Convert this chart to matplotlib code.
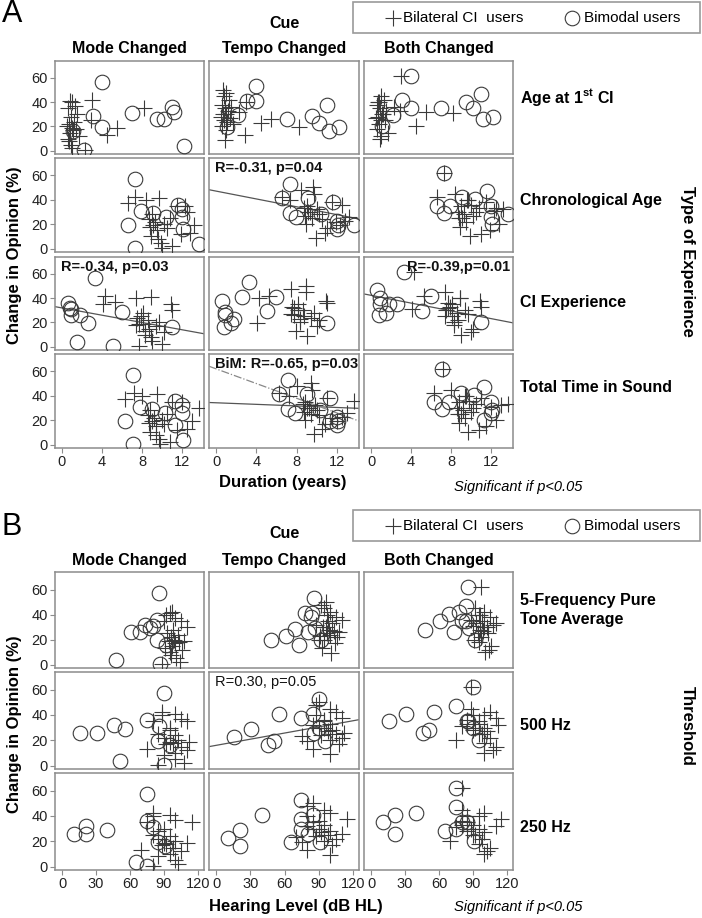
import numpy as np
import matplotlib
matplotlib.use("Agg")
import matplotlib.pyplot as plt
from matplotlib.patches import Rectangle
from matplotlib.lines import Line2D

plt.rcParams['font.family'] = ['Liberation Sans', 'DejaVu Sans']
plt.rcParams['mathtext.fontset'] = 'custom'
plt.rcParams['mathtext.bf'] = 'Liberation Sans:bold'
plt.rcParams['mathtext.rm'] = 'Liberation Sans'

# ---------------- data ----------------
cues = ["Mode Changed", "Tempo Changed", "Both Changed"]
rows_A = ["Age at 1$^{\\mathbf{st}}$ CI", "Chronological Age", "CI Experience", "Total Time in Sound"]
rows_B = ["5-Frequency Pure\nTone Average", "500 Hz", "250 Hz"]
ticks_A = [0, 4, 8, 12]
ticks_B = [0, 30, 60, 90, 120]
ticks_y = [0, 20, 40, 60]

# Bimodal users (one entry per participant)
bim_age   = [4.0, 3.1, 4.0, 1.1, 7.0, 9.5, 10.2, 11.0, 11.2, 12.2, 2.2]
bim_chron = [7.3, 9.1, 6.6, 12.1, 7.9, 10.4, 12.0, 11.6, 12.0, 13.7, 7.3]
bim_exp   = [3.3, 6.0, 2.6, 11.0, 0.9, 0.9, 1.8, 0.6, 0.8, 1.5, 5.1]
bim_tts   = [7.1, 9.0, 6.3, 11.3, 7.8, 10.3, 12.0, 11.3, 12.0, 12.1, 7.1]
bim_pta   = [86, 78, 84, 92, 80.6, 69, 61, 83.5, 73, 48, 86.5]
bim_500   = [90, 55.6, 85, 95.3, 86, 30.6, 15.9, 74.7, 45.9, 51.2, 90]
bim_250   = [74.7, 40, 85, 90.9, 80.6, 21.2, 10.6, 74.7, 21.2, 65.3, 74.7]
bim_mode  = [57, 29, 19.5, 16, 31, 26, 26, 36, 32, 4, 0.5]
bim_tempo = [53, 41, 41, 19.5, 26, 28.6, 22.6, 37.7, 16, 19.5, 29.5]
bim_both  = [62, 42, 35, 20, 35, 40.5, 35, 47, 26, 28, 29.5]

# Bilateral CI users
bil_age   = [3.0, 1.0, 0.8, 1.3, 0.6, 8.2, 0.9, 2.9, 1.2, 0.7, 5.5, 1.0, 0.5, 4.5, 1.4, 0.8, 1.1, 0.6, 1.7, 0.9, 2.3, 1.0, 1.5, 0.7]
bil_chron = [7.3, 8.4, 9.7, 6.6, 11.5, 12.3, 9.0, 10.8, 8.7, 9.3, 13.2, 9.1, 10.2, 12.8, 8.8, 9.5, 10.5, 8.9, 11.9, 9.9, 10.0, 11.0, 12.5, 9.6]
bil_exp   = [4.3, 7.4, 8.9, 5.3, 10.9, 4.1, 8.1, 7.9, 7.5, 8.6, 7.7, 8.1, 9.7, 8.3, 7.4, 8.7, 9.4, 8.3, 10.2, 9.0, 7.7, 10.0, 11.0, 8.9]
bil_tts   = [7.2, 8.0, 9.5, 6.3, 11.0, 12.0, 8.8, 10.5, 8.6, 9.2, 13.0, 9.0, 10.0, 12.5, 8.7, 9.4, 10.2, 8.8, 11.5, 9.7, 9.8, 10.8, 13.7, 9.4]
bil_pta   = [97, 92, 95, 100, 105, 90, 98, 93, 102, 96, 108, 94, 99, 91, 103, 97, 100, 95, 106, 101, 88, 104, 110, 96]
bil_500   = [88, 88, 100, 105, 110, 80, 95, 85, 100, 90, 112, 95, 102, 75, 98, 105, 92, 100, 110, 100, 85, 108, 95, 90]
bil_250   = [80, 80, 95, 100, 115, 75, 85, 80, 95, 85, 110, 90, 100, 70, 92, 98, 88, 95, 105, 100, 80, 102, 90, 85]
bil_mode  = [42, 40, 41, 37, 35, 35, 28, 25, 24, 22, 19, 19, 20, 13, 18, 15, 17, 10, 12, 5, 0.5, 2, 30, 8]
bil_tempo = [40, 48, 45, 42, 38, 19.5, 35, 13, 33, 30, 26, 30, 28, 23, 27, 25, 24, 20, 22, 9, 32, 17, 36, 50]
bil_both  = [62, 45, 40, 42, 38, 31, 35, 33, 30, 28, 32, 25, 27, 20, 25, 22, 30, 18, 15, 10, 36, 12, 33, 40]

bim_x_A = [bim_age, bim_chron, bim_exp, bim_tts]
bil_x_A = [bil_age, bil_chron, bil_exp, bil_tts]
bim_x_B = [bim_pta, bim_500, bim_250]
bil_x_B = [bil_pta, bil_500, bil_250]
bim_y = [bim_mode, bim_tempo, bim_both]
bil_y = [bil_mode, bil_tempo, bil_both]

# fit lines: (panel, row, col, intercept, slope, style)
fits = [("A", 1, 1, 47.0, -1.6, "-"),
        ("A", 2, 0, 32.0, -1.5, "-"),
        ("A", 2, 2, 42.4, -1.6, "-"),
        ("A", 3, 1, 34.2, -0.32, "-"),
        ("A", 3, 1, 61.9, -3.0, "-."),
        ("B", 1, 1, 16.0, 0.162, "-")]
annots = [("A", 1, 1, "R=-0.31, p=0.04", "bold", "left"),
          ("A", 2, 0, "R=-0.34, p=0.03", "bold", "left"),
          ("A", 2, 2, "R=-0.39,p=0.01", "bold", "right"),
          ("A", 3, 1, "BiM: R=-0.65, p=0.03", "bold", "left"),
          ("B", 1, 1, "R=0.30, p=0.05", "normal", "left")]

# ---------------- layout ----------------
W, H = 702, 918
fig = plt.figure(figsize=(W / 100, H / 100), dpi=100)
fig.patch.set_facecolor('white')

col_x = [(55, 204), (209, 359), (364, 513)]
rows_A_y = [(61, 154), (158, 252), (257, 350), (354, 448)]
rows_B_y = [(572, 668), (672, 769), (773, 870)]

EC = '#8c8c8c'
MC = '#3a3a3a'


def make_ax(x0, x1, y0, y1):
    return fig.add_axes([x0 / W, 1 - y1 / H, (x1 - x0) / W, (y1 - y0) / H])


def style_ax(ax, left, bottom, xlim, xticks):
    ax.set_xlim(*xlim)
    ax.set_ylim(-2.7, 74)
    for s in ax.spines.values():
        s.set_color(EC)
        s.set_linewidth(1.1)
    ax.tick_params(colors='#222222', labelsize=10.5, length=3.5, width=0.8, pad=1.5)
    ax.tick_params(axis='both', color=EC)
    ax.set_yticks(ticks_y)
    ax.set_xticks(xticks)
    if not left:
        ax.tick_params(axis='y', left=False, labelleft=False)
    if not bottom:
        ax.tick_params(axis='x', bottom=False, labelbottom=False)


axes = {}
for panel, rows_y, xs_bim, xs_bil, xlim, xticks in [
        ("A", rows_A_y, bim_x_A, bil_x_A, (-0.7, 14.2), ticks_A),
        ("B", rows_B_y, bim_x_B, bil_x_B, (-6.2, 125.3), ticks_B)]:
    nr = len(rows_y)
    for r in range(nr):
        for c in range(3):
            ax = make_ax(col_x[c][0], col_x[c][1], rows_y[r][0], rows_y[r][1])
            style_ax(ax, c == 0, r == nr - 1, xlim, xticks)
            ax.plot(xs_bil[r], bil_y[c], linestyle='none', marker='+', ms=11.5,
                    mew=0.8, color=MC, zorder=3)
            ax.plot(xs_bim[r], bim_y[c], linestyle='none', marker='o', ms=10.5,
                    mew=0.8, mfc='none', mec=MC, zorder=3)
            axes[(panel, r, c)] = ax

for panel, r, c, b0, b1, ls in fits:
    ax = axes[(panel, r, c)]
    xl = np.array(ax.get_xlim())
    col = '#555555' if ls == '-' else '#888888'
    ax.plot(xl, b0 + b1 * xl, ls, color=col, lw=0.9, zorder=2, clip_on=True)

for panel, r, c, txt, wt, ha in annots:
    ax = axes[(panel, r, c)]
    xpos = 0.04 if ha == "left" else 0.98
    ax.text(xpos, 0.97, txt, transform=ax.transAxes, ha=ha, va='top',
            fontsize=10.5, fontweight=wt, color='#111111', zorder=5, clip_on=False)


def ftext(x, y, s, **kw):
    fig.text(x / W, 1 - y / H, s, **kw)


def legend_box(ytop):
    fig.add_artist(Rectangle((353 / W, 1 - (ytop + 31) / H), 347 / W, 31 / H,
                             transform=fig.transFigure, fill=False, ec='#9a9a9a', lw=1.2))
    yc = ytop + 16
    fig.add_artist(Line2D([393 / W], [1 - yc / H], marker='+', ms=11.5, mew=0.8,
                          color=MC, transform=fig.transFigure))
    ftext(403, yc, "Bilateral CI  users", fontsize=11, va='center', ha='left')
    fig.add_artist(Line2D([572 / W], [1 - yc / H], marker='o', ms=10.5, mew=0.8,
                          mfc='none', mec=MC, transform=fig.transFigure))
    ftext(584, yc, "Bimodal users", fontsize=11, va='center', ha='left')


# Panel A texts
ftext(2, 14, "A", fontsize=22, va='center', ha='left')
ftext(285, 23, "Cue", fontsize=11.5, fontweight='bold', ha='center', va='center')
legend_box(2)
for c, name in enumerate(cues):
    ftext((col_x[c][0] + col_x[c][1]) / 2, 49, name, fontsize=11.5,
          fontweight='bold', ha='center', va='center')
for lab, y in zip(rows_A, [97, 200, 303, 388]):
    ftext(520, y, lab, fontsize=11.5, fontweight='bold', ha='left', va='center')
ftext(687, 261, "Type of Experience", fontsize=12, fontweight='bold', rotation=-90,
      ha='center', va='center')
ftext(15, 255, "Change in Opinion (%)", fontsize=12, fontweight='bold', rotation=90,
      ha='center', va='center')
ftext(283, 483, "Duration (years)", fontsize=12, fontweight='bold', ha='center', va='center')
ftext(518, 487, "Significant if p<0.05", fontsize=10.5, style='italic', ha='center', va='center')

# Panel B texts
ftext(2, 527, "B", fontsize=22, va='center', ha='left')
ftext(285, 533, "Cue", fontsize=11.5, fontweight='bold', ha='center', va='center')
legend_box(510)
for c, name in enumerate(cues):
    ftext((col_x[c][0] + col_x[c][1]) / 2, 560, name, fontsize=11.5,
          fontweight='bold', ha='center', va='center')
ftext(520, 610, rows_B[0], fontsize=11.5, fontweight='bold', ha='left', va='center',
      linespacing=1.35)
ftext(520, 726, rows_B[1], fontsize=11.5, fontweight='bold', ha='left', va='center')
ftext(520, 828, rows_B[2], fontsize=11.5, fontweight='bold', ha='left', va='center')
ftext(687, 726, "Threshold", fontsize=12, fontweight='bold', rotation=-90,
      ha='center', va='center')
ftext(15, 724, "Change in Opinion (%)", fontsize=12, fontweight='bold', rotation=90,
      ha='center', va='center')
ftext(296, 906, "Hearing Level (dB HL)", fontsize=12, fontweight='bold', ha='center', va='center')
ftext(518, 907, "Significant if p<0.05", fontsize=10.5, style='italic', ha='center', va='center')

fig.savefig("out.png", dpi=100, facecolor='white')
